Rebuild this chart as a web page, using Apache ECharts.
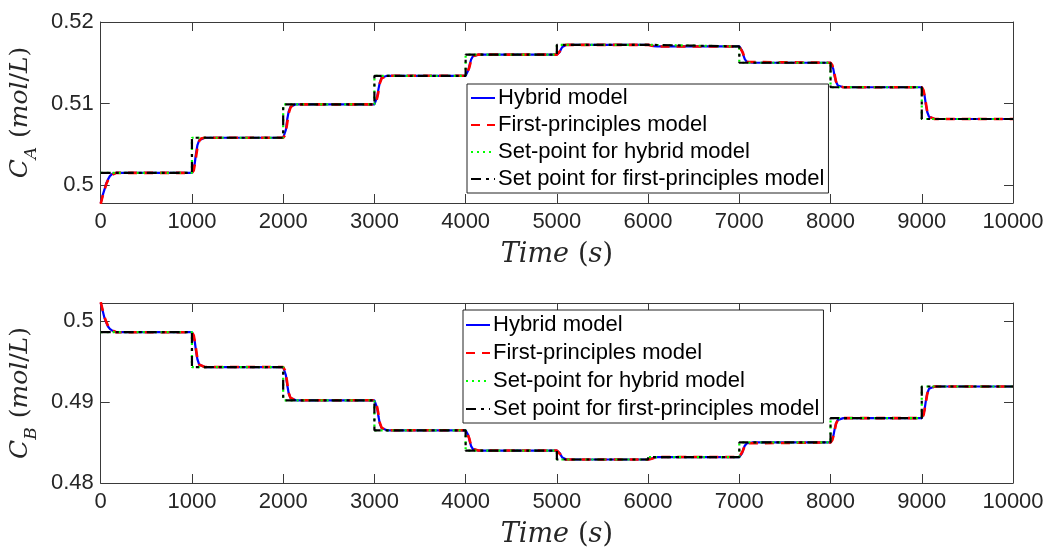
<!DOCTYPE html>
<html>
<head>
<meta charset="utf-8">
<script src="https://cdn.jsdelivr.net/npm/echarts@6/dist/echarts.min.js"></script>
<style>html,body{margin:0;padding:0;background:#fff}#c{width:1050px;height:551px}</style>
</head>
<body>
<div id="c"></div>
<script>
// ---- data ----
const seriesNames = ['Hybrid model', 'First-principles model', 'Set-point for hybrid model', 'Set point for first-principles model'];
const xTicks = [0, 1000, 2000, 3000, 4000, 5000, 6000, 7000, 8000, 9000, 10000];
const caTicks = [0.5, 0.51, 0.52];
const cbTicks = [0.48, 0.49, 0.5];
const spTimes = [0, 1000, 2000, 3000, 4000, 5000, 6000, 7000, 8000, 9000, 10000];
const caSetpoint = [0.5015, 0.5058, 0.5099, 0.5134, 0.5160, 0.5172, 0.5170, 0.5150, 0.5120, 0.5081, 0.5081];
const cbSetpoint = [0.4986, 0.4943, 0.4902, 0.4865, 0.4840, 0.4829, 0.4832, 0.4850, 0.4880, 0.4919, 0.4919];

const caHybrid = [
 [0,0.4978],[20,0.4987],[40,0.4994],[60,0.5002],[80,0.5007],[100,0.5011],[130,0.5014],[170,0.5015],
 [1000,0.5015],[1015,0.5017],[1030,0.5026],[1045,0.5039],[1060,0.5049],[1080,0.5055],[1100,0.5057],[1140,0.5058],
 [2000,0.5058],[2015,0.5060],[2030,0.5068],[2045,0.5081],[2060,0.5090],[2080,0.5096],[2100,0.5098],[2140,0.5099],
 [3000,0.5099],[3015,0.5101],[3030,0.5108],[3045,0.5118],[3060,0.5126],[3080,0.5132],[3100,0.5133],[3140,0.5134],
 [4000,0.5134],[4015,0.5135],[4030,0.5141],[4045,0.5148],[4060,0.5154],[4080,0.5158],[4100,0.5159],[4140,0.5160],
 [5000,0.5160],[5015,0.51606],[5030,0.5163],[5045,0.51666],[5060,0.51694],[5080,0.51712],[5100,0.51718],[5140,0.5172],
 [6000,0.5172],[6030,0.51715],[6060,0.51705],[6100,0.5170],
 [7000,0.5170],[7015,0.5169],[7030,0.5165],[7045,0.5159],[7060,0.51544],[7080,0.51514],[7100,0.51504],[7140,0.5150],
 [8000,0.5150],[8015,0.51485],[8030,0.51425],[8045,0.51335],[8060,0.51266],[8080,0.51221],[8100,0.51206],[8140,0.5120],
 [9000,0.5120],[9015,0.51181],[9030,0.51103],[9045,0.50986],[9060,0.50896],[9080,0.50837],[9100,0.50818],[9140,0.5081],
 [10000,0.5081]
];
const caFirstPrinciples = [
 [0,0.4977],[20,0.4986],[40,0.4993],[60,0.5001],[80,0.5006],[100,0.5010],[130,0.5013],[170,0.5015],
 [1000,0.5015],[1020,0.5018],[1040,0.5031],[1060,0.5046],[1080,0.5054],[1100,0.5057],[1140,0.5058],
 [2000,0.5058],[2020,0.5061],[2040,0.5073],[2060,0.5088],[2080,0.5095],[2100,0.5098],[2140,0.5099],
 [3000,0.5099],[3020,0.5102],[3040,0.5112],[3060,0.5125],[3080,0.5131],[3100,0.5133],[3140,0.5134],
 [4000,0.5134],[4020,0.5136],[4040,0.5144],[4060,0.5153],[4080,0.5158],[4100,0.5159],[4140,0.5160],
 [5000,0.5160],[5020,0.5161],[5040,0.5165],[5060,0.5169],[5080,0.5171],[5100,0.5172],
 [6000,0.5172],[6040,0.5171],[6100,0.5170],
 [7000,0.5170],[7020,0.5168],[7040,0.5162],[7060,0.5155],[7080,0.5151],[7100,0.5150],
 [8000,0.5150],[8020,0.5147],[8040,0.5138],[8060,0.5127],[8080,0.5122],[8100,0.5121],[8140,0.5120],
 [9000,0.5120],[9020,0.5116],[9040,0.5104],[9060,0.5090],[9080,0.5084],[9100,0.5082],[9140,0.5081],
 [10000,0.5081]
];
const cbHybrid = [
 [0,0.5022],[20,0.5013],[40,0.5004],[60,0.4998],[80,0.4993],[100,0.4990],[130,0.49875],[170,0.4986],
 [1000,0.4986],[1015,0.49838],[1030,0.49752],[1045,0.49625],[1060,0.49525],[1080,0.4946],[1100,0.49439],[1140,0.4943],
 [2000,0.4943],[2015,0.4941],[2030,0.49328],[2045,0.49205],[2060,0.4911],[2080,0.49049],[2100,0.49028],[2140,0.4902],
 [3000,0.4902],[3015,0.49002],[3030,0.48927],[3045,0.48816],[3060,0.48731],[3080,0.48676],[3100,0.48657],[3140,0.4865],
 [4000,0.4865],[4015,0.48638],[4030,0.48588],[4045,0.48513],[4060,0.48455],[4080,0.48418],[4100,0.48405],[4140,0.4840],
 [5000,0.4840],[5015,0.48395],[5030,0.48373],[5045,0.4834],[5060,0.48314],[5080,0.48298],[5100,0.48292],[5140,0.4829],
 [6000,0.4829],[6030,0.48298],[6060,0.48312],[6100,0.4832],
 [7000,0.4832],[7015,0.48329],[7030,0.48365],[7045,0.48419],[7060,0.4846],[7080,0.48487],[7100,0.48496],[7140,0.4850],
 [8000,0.4850],[8015,0.48515],[8030,0.48575],[8045,0.48665],[8060,0.48734],[8080,0.48779],[8100,0.48794],[8140,0.4880],
 [9000,0.4880],[9015,0.4882],[9030,0.48898],[9045,0.49015],[9060,0.49104],[9080,0.49163],[9100,0.49182],[9140,0.4919],
 [10000,0.4919]
];
const cbFirstPrinciples = [
 [0,0.5023],[20,0.5014],[40,0.5005],[60,0.4999],[80,0.4994],[100,0.4990],[130,0.4988],[170,0.4986],
 [1000,0.4986],[1020,0.4982],[1040,0.4969],[1060,0.4953],[1080,0.4946],[1100,0.4944],[1140,0.4943],
 [2000,0.4943],[2020,0.4939],[2040,0.4927],[2060,0.4911],[2080,0.4905],[2100,0.4903],[2140,0.4902],
 [3000,0.4902],[3020,0.4899],[3040,0.4888],[3060,0.4874],[3080,0.4868],[3100,0.4866],[3140,0.4865],
 [4000,0.4865],[4020,0.4863],[4040,0.4855],[4060,0.4846],[4080,0.4842],[4100,0.4841],[4140,0.4840],
 [5000,0.4840],[5020,0.4839],[5040,0.4835],[5060,0.4831],[5080,0.4830],[5100,0.4829],
 [6000,0.4829],[6040,0.4830],[6100,0.4832],
 [7000,0.4832],[7020,0.4834],[7040,0.4840],[7060,0.4846],[7080,0.4849],[7100,0.4850],
 [8000,0.4850],[8020,0.4853],[8040,0.4862],[8060,0.4873],[8080,0.4878],[8100,0.4879],[8140,0.4880],
 [9000,0.4880],[9020,0.4884],[9040,0.4896],[9060,0.4910],[9080,0.4916],[9100,0.4918],[9140,0.4919],
 [10000,0.4919]
];

// ---- chart ----
const AX = '#3a3a3a', TX = '#262626';
const sans = 'Liberation Sans, Arial, sans-serif';
const serif = 'DejaVu Serif, serif';
function mathRich(size, subSize) {
  return {
    i: {fontFamily: serif, fontStyle: 'italic', fontSize: size, color: TX, verticalAlign: 'bottom', padding: [0,0,7,0]},
    n: {fontFamily: serif, fontStyle: 'normal', fontSize: size, color: TX, verticalAlign: 'bottom', padding: [0,0,7,0]},
    sp: {fontFamily: serif, fontSize: size, color: TX, verticalAlign: 'bottom', padding: [0,0,7,0], width: Math.round(size * 0.35)},
    sub: {fontFamily: serif, fontStyle: 'italic', fontSize: subSize, color: TX, verticalAlign: 'bottom', padding: [0,0,0,0]}
  };
}

function xAxes(gi) {
  return [{
    type: 'value', gridIndex: gi, min: 0, max: 10000, interval: 1000, position: 'bottom',
    axisLine: {show: true, onZero: false, lineStyle: {color: AX, width: 1}},
    axisTick: {show: true, inside: true, length: 9, lineStyle: {color: AX}},
    axisLabel: {show: true, color: TX, fontFamily: sans, fontSize: 22, margin: 8, formatter: v => String(v)},
    splitLine: {show: false},
    name: '{i|Time}{sp| }{n|(}{i|s}{n|)}', nameLocation: 'middle', nameGap: 38,
    nameTextStyle: {rich: mathRich(27, 18)}
  }, {
    type: 'value', gridIndex: gi, min: 0, max: 10000, interval: 1000, position: 'top',
    axisLine: {show: true, onZero: false, lineStyle: {color: AX, width: 1}},
    axisTick: {show: true, inside: true, length: 9, lineStyle: {color: AX}},
    axisLabel: {show: false}, splitLine: {show: false}
  }];
}
function yAxes(gi, min, max, ticks, sub) {
  const common = {
    type: 'value', gridIndex: gi, min: min, max: max,
    axisLine: {show: true, onZero: false, lineStyle: {color: AX, width: 1}},
    splitLine: {show: false}
  };
  return [Object.assign({}, common, {
    position: 'left',
    axisTick: {show: true, inside: true, length: 9, customValues: ticks, lineStyle: {color: AX}},
    axisLabel: {show: true, customValues: ticks, color: TX, fontFamily: sans, fontSize: 22, margin: 7,
      formatter: v => String(+v.toFixed(2))},
    name: '{i|C}{sub|' + sub + '}{sp| }{n|(}{i|mol}{n|/}{i|L}{n|)}', nameLocation: 'middle', nameRotate: 90, nameGap: 42,
    nameTextStyle: {rich: mathRich(25, 17)}
  }), Object.assign({}, common, {
    position: 'right',
    axisTick: {show: true, inside: true, length: 9, customValues: ticks, lineStyle: {color: AX}},
    axisLabel: {show: false}
  })];
}
function lines(gi, hyb, fp, sp) {
  const xi = gi * 2, yi = gi * 2;
  const base = {type: 'line', xAxisIndex: xi, yAxisIndex: yi, symbol: 'none', animation: false, silent: true};
  return [
    Object.assign({}, base, {name: seriesNames[0], data: hyb, color: '#0000ff', lineStyle: {color: '#0000ff', width: 2.2, type: 'solid'}}),
    Object.assign({}, base, {name: seriesNames[1], data: fp, color: '#ff0000', lineStyle: {color: '#ff0000', width: 2.6, type: [9, 7]}}),
    Object.assign({}, base, {name: seriesNames[2], data: sp, step: 'end', color: '#00ff00', lineStyle: {color: '#00ff00', width: 2.2, type: [2, 4]}}),
    Object.assign({}, base, {name: seriesNames[3], data: sp, step: 'end', color: '#000000', lineStyle: {color: '#000000', width: 2.2, type: [10, 5, 3, 5]}})
  ];
}
function legend(left, top, pad, gap) {
  return {
    orient: 'vertical', left: left, top: top, padding: pad, itemGap: gap,
    itemWidth: 24, itemHeight: 12, data: seriesNames, selectedMode: false,
    itemStyle: {opacity: 0},
    backgroundColor: '#fff', borderColor: '#222', borderWidth: 1, borderRadius: 0,
    textStyle: {fontFamily: sans, fontSize: 22, color: '#000', padding: [0, 0, 0, -2], lineHeight: 22}
  };
}

const chart = echarts.init(document.getElementById('c'), null, {renderer: 'canvas'});
chart.setOption({
  backgroundColor: '#fff',
  animation: false,
  grid: [
    {left: 98, right: 37, top: 22, height: 181},
    {left: 98, right: 37, top: 303, height: 180}
  ],
  xAxis: xAxes(0).concat(xAxes(1)),
  yAxis: yAxes(0, 0.4978, 0.52, caTicks, 'A').concat(yAxes(1, 0.48, 0.5022, cbTicks, 'B')),
  legend: [legend(467, 84, [3, 4, 3, 3], 5), legend(463, 310, [4, 4, 3, 2], 6)],
  series: lines(0, caHybrid, caFirstPrinciples, spTimes.map((t, i) => [t, caSetpoint[i]]))
    .concat(lines(1, cbHybrid, cbFirstPrinciples, spTimes.map((t, i) => [t, cbSetpoint[i]])))
});
</script>
</body>
</html>
